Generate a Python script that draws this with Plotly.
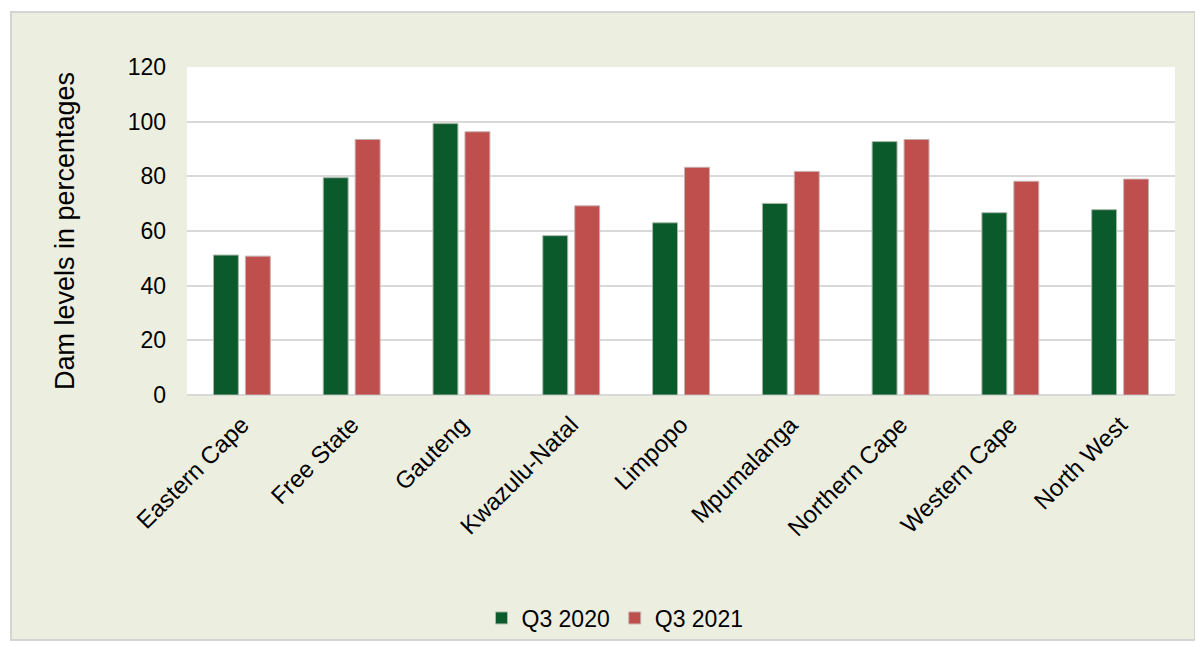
import plotly.graph_objects as go

provinces = ["Eastern Cape", "Free State", "Gauteng", "Kwazulu-Natal", "Limpopo",
             "Mpumalanga", "Northern Cape", "Western Cape", "North West"]
q3_2020 = [51.2, 79.5, 99.3, 58.3, 63.0, 70.1, 92.7, 66.7, 67.8]
q3_2021 = [50.8, 93.5, 96.3, 69.2, 83.3, 81.8, 93.5, 78.2, 79.0]
y_ticks = [0, 20, 40, 60, 80, 100, 120]

FONT = "Liberation Sans, Arial, sans-serif"

fig = go.Figure()
fig.add_trace(go.Bar(name="Q3 2020", x=provinces, y=q3_2020,
                     marker=dict(color="#0B5A2B", line=dict(color="#A9B8A9", width=1))))
fig.add_trace(go.Bar(name="Q3 2021", x=provinces, y=q3_2021,
                     marker=dict(color="#BE4F4C", line=dict(color="#C8B0AE", width=1))))

OFF = 8  # page body margin
W, H = 1203 - OFF, 647 - OFF
L, T = 187 - OFF, 67 - OFF
R = W - (1175 - OFF)
B = H - (395 - OFF)
pw, ph = W - L - R, H - T - B

def px_x(p):
    return (p - OFF - L) / pw

def px_y(p):
    return (H - B - (p - OFF)) / ph

shapes = [
    dict(type="rect", xref="paper", yref="paper",
         x0=px_x(11), x1=px_x(1195), y0=px_y(640), y1=px_y(12),
         fillcolor="#ECEFE0", line=dict(color="#D4D4D4", width=2), layer="below"),
    dict(type="rect", xref="paper", yref="paper", x0=0, x1=1, y0=0, y1=1,
         fillcolor="#FFFFFF", line=dict(width=0), layer="below"),
]

fig.update_layout(
    width=W, height=H,
    margin=dict(l=L, r=R, t=T, b=B, autoexpand=False),
    paper_bgcolor="#FFFFFF",
    plot_bgcolor="#FFFFFF",
    barmode="group",
    bargap=0.418,
    bargroupgap=0.22,
    font=dict(family=FONT, size=23, color="#000000"),
    shapes=shapes,
    showlegend=True,
    legend=dict(orientation="h", x=px_x(615), y=px_y(618), xanchor="center", yanchor="middle",
                font=dict(family=FONT, size=23, color="#000000"), bgcolor="rgba(0,0,0,0)",
                itemwidth=30, tracegroupgap=0),
    xaxis=dict(tickangle=-45, tickfont=dict(family=FONT, size=24), showgrid=False,
               showline=False, ticks="", automargin=False, ticklabelstandoff=10),
    yaxis=dict(range=[0, 120], tickvals=y_ticks, tickfont=dict(family=FONT, size=23),
               gridcolor="#D9D9D9", gridwidth=1.5, zeroline=True, zerolinecolor="#D9D9D9",
               zerolinewidth=1.5, showline=False, ticks="", automargin=False,
               ticklabelstandoff=20,
               title=dict(text="Dam levels in percentages", font=dict(family=FONT, size=27),
                          standoff=45)),
)

fig.write_html("out.html")
